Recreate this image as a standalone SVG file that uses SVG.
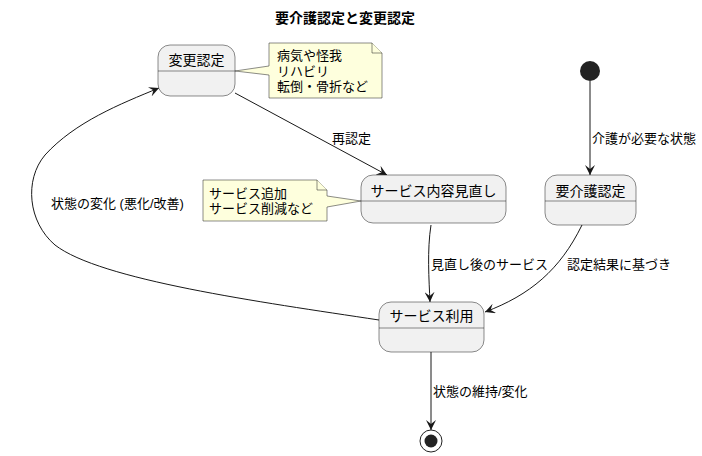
<svg xmlns="http://www.w3.org/2000/svg" width="702" height="456" viewBox="0 0 702 456">
<defs>
<style>
text{font-family:"Liberation Sans","Noto Sans CJK JP",sans-serif;fill:#000}
.st{fill:#F1F1F1;stroke:#181818;stroke-width:0.5}
.dv{stroke:#181818;stroke-width:0.5}
.nt{fill:#FEFFDD;stroke:#181818;stroke-width:0.5}
.sn{font-size:14px;text-anchor:middle}
.nx{font-size:13px}
.lb{font-size:13px}
.ed{fill:none;stroke:#181818;stroke-width:1;marker-end:url(#ah)}
</style>
<marker id="ah" markerWidth="12" markerHeight="10" refX="10" refY="5" orient="auto" markerUnits="userSpaceOnUse">
<path d="M0,0 L10,5 L0,10 L4,5 Z" fill="#181818"/>
</marker>
</defs>
<rect width="702" height="456" fill="#fff"/>
<text x="345" y="23" style="font-size:14px;font-weight:bold;text-anchor:middle">要介護認定と変更認定</text>

<g id="connectors">
<line class="ed" x1="590" y1="81" x2="590" y2="175"/>
<line class="ed" x1="235" y1="93" x2="387" y2="175"/>
<path class="ed" d="M431,225 C427,250 429,280 430,302"/>
<path class="ed" d="M582,225 C560,270 530,295 485,312"/>
<path class="ed" d="M379,320 C260,302 100,280 55,245 C28,222 24,180 45,155 C75,122 120,104 159,88"/>
<line class="ed" x1="431" y1="352" x2="431" y2="430"/>
<text class="lb" x="592" y="143">介護が必要な状態</text>
<text class="lb" x="332" y="143">再認定</text>
<text class="lb" x="431" y="269">見直し後のサービス</text>
<text class="lb" x="567" y="269">認定結果に基づき</text>
<text class="lb" x="51" y="208">状態の変化 (悪化/改善)</text>
<text class="lb" x="433" y="396">状態の維持/変化</text>
</g>

<g id="start">
<circle cx="590" cy="71" r="10" fill="#222"/>
</g>
<g id="end">
<circle cx="431" cy="441" r="11" fill="none" stroke="#222" stroke-width="1"/>
<circle cx="431" cy="441" r="6.5" fill="#222"/>
</g>

<g id="henkou">
<rect class="st" x="158" y="45" width="77" height="51" rx="12"/>
<line class="dv" x1="158" y1="71" x2="235" y2="71"/>
<text class="sn" x="196.5" y="65">変更認定</text>
</g>

<g id="note1">
<path class="nt" d="M269,43 L372,43 L382,53 L382,98 L269,98 L269,75 L235,71 L269,66 Z"/>
<path class="nt" d="M372,43 L372,53 L382,53" fill="none"/>
<text class="nx"><tspan x="277" y="60">病気や怪我</tspan><tspan x="277" y="76">リハビリ</tspan><tspan x="277" y="91">転倒・骨折など</tspan></text>
</g>

<g id="minaoshi">
<rect class="st" x="361" y="175" width="145" height="48" rx="12"/>
<line class="dv" x1="361" y1="201" x2="506" y2="201"/>
<text class="sn" x="433.5" y="196">サービス内容見直し</text>
</g>

<g id="note2">
<path class="nt" d="M203,180 L317,180 L327,190 L327,196 L361,201 L327,207 L327,221 L203,221 Z"/>
<path class="nt" d="M317,180 L317,190 L327,190" fill="none"/>
<text class="nx"><tspan x="209" y="198">サービス追加</tspan><tspan x="209" y="213">サービス削減など</tspan></text>
</g>

<g id="youkaigo">
<rect class="st" x="545" y="175" width="91" height="50" rx="12"/>
<line class="dv" x1="545" y1="201" x2="636" y2="201"/>
<text class="sn" x="590.5" y="196">要介護認定</text>
</g>

<g id="riyou">
<rect class="st" x="379" y="302" width="105" height="50" rx="12"/>
<line class="dv" x1="379" y1="328" x2="484" y2="328"/>
<text class="sn" x="431.5" y="321">サービス利用</text>
</g>
</svg>
